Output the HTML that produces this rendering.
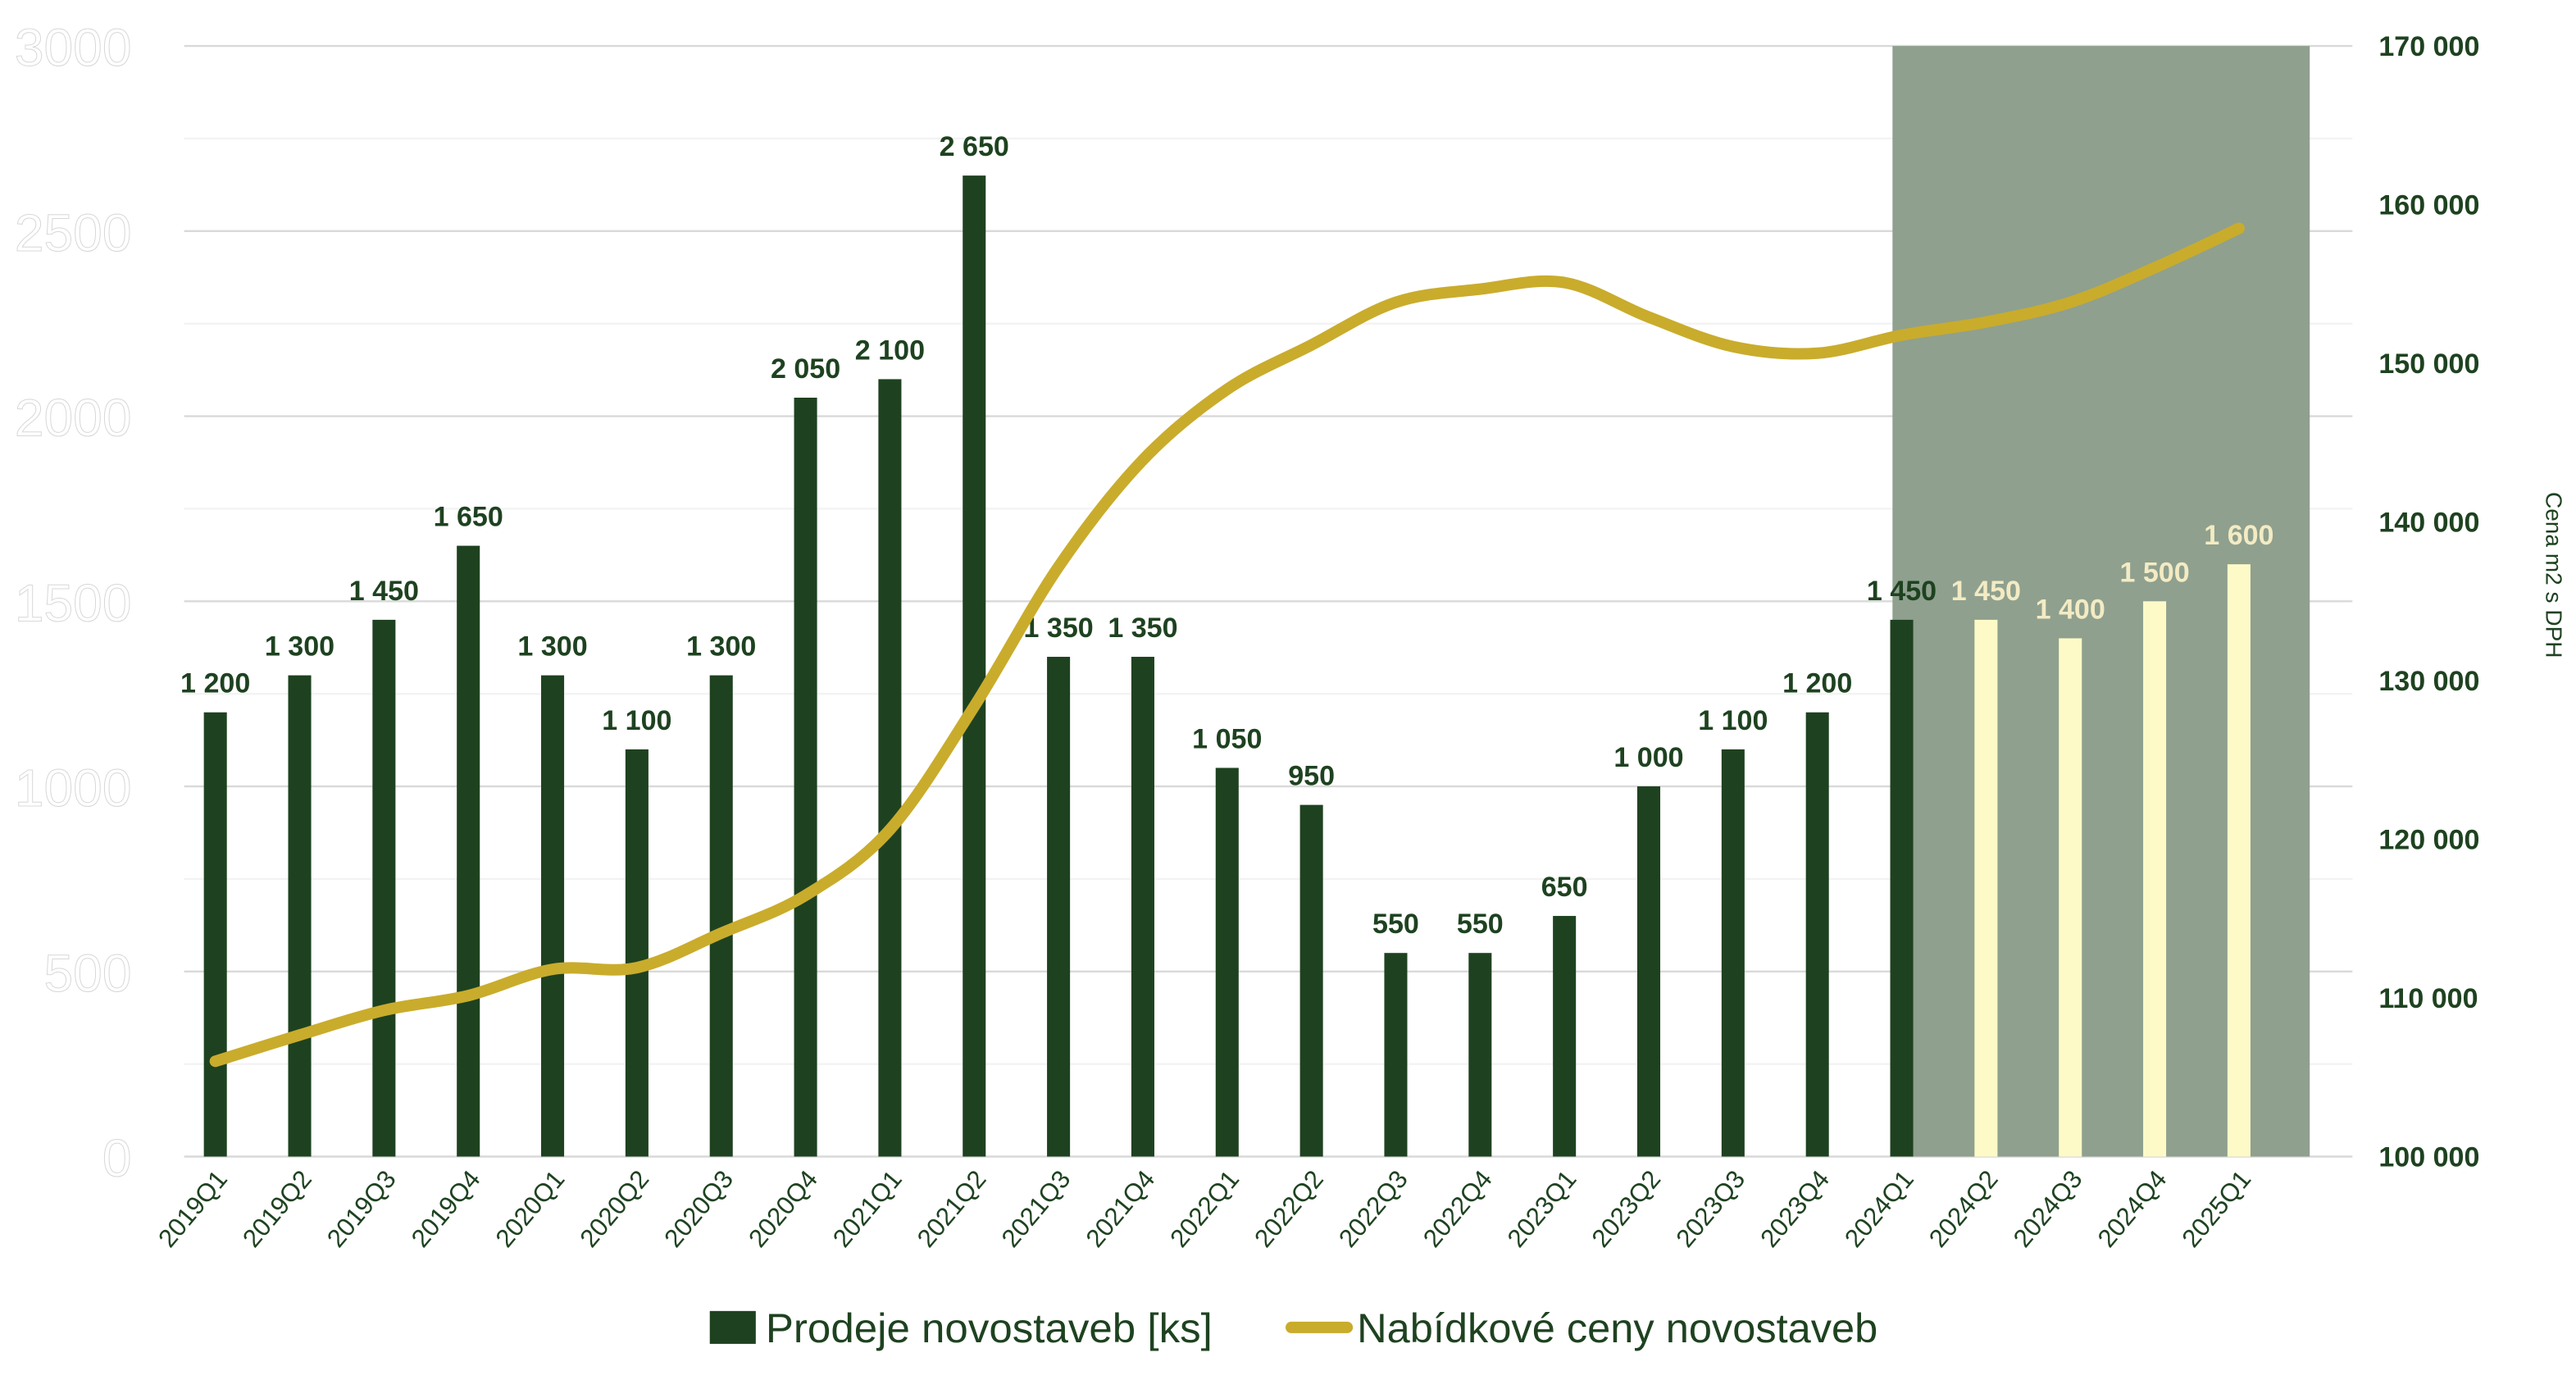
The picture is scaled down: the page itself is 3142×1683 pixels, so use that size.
<!DOCTYPE html>
<html><head><meta charset="utf-8"><style>
html,body{margin:0;padding:0;background:#fff;}
svg{display:block;}
text{font-family:"Liberation Sans",Arial,sans-serif;}
</style></head><body>
<svg id="c" width="3142" height="1683" viewBox="0 0 1568 840" xmlns="http://www.w3.org/2000/svg"></svg>
<script>
var svg=document.getElementById('c');var h='';
var sales=[1200,1300,1450,1650,1300,1100,1300,2050,2100,2650,1350,1350,1050,950,550,550,650,1000,1100,1200,1450,1450,1400,1500,1600];
var cats=[];for(var y=2019;y<=2025;y++)for(var q=1;q<=4;q++)cats.push(y+'Q'+q);cats=cats.slice(0,25);
var ly=[646,630,615,606,590,589,568,545,505,430,345,280,237,210,184,176,172,193,211,215,204,196,184,163,139];
function Y(v){return 704-v*676/3000;}
function X(i){return 131+51.33*i;}
for(var k=0;k<=12;k++){var yy=28+k*676/12;h+='<line x1="112" x2="1432" y1="'+yy+'" y2="'+yy+'" stroke="'+(k%2==0?'#d9d9d9':'#f3f3f3')+'" stroke-width="1.2"/>';}
h+='<rect x="1152" y="28" width="254" height="676" fill="#8fa08e"/>';
for(var k=0;k<=6;k++){var s=String(k*500);h+='<text x="80" y="'+(704-k*676/6+12)+'" text-anchor="end" font-size="32" fill="#fff" stroke="#d8d8d8" stroke-width="0.5" transform="scale(1,1)">'+s+'</text>';}
var rl=['170 000','160 000','150 000','140 000','130 000','120 000','110 000','100 000'];
for(var k=0;k<8;k++){h+='<text x="1448" y="'+(28+k*676/7+6)+'" font-size="17" font-weight="bold" fill="#1e4220">'+rl[k]+'</text>';}
h+='<text transform="translate(1550,350) rotate(90)" text-anchor="middle" font-size="14" fill="#1e4220">Cena m2 s DPH</text>';
for(var i=0;i<25;i++){var f=i>=21;var t=Y(sales[i]);
h+='<rect x="'+(X(i)-7)+'" y="'+t+'" width="14" height="'+(704-t)+'" fill="'+(f?'#fdfac8':'#1e4220')+'"/>';
var s=sales[i]>=1000?Math.floor(sales[i]/1000)+' '+String(sales[i]%1000).padStart(3,'0'):String(sales[i]);
h+='<text x="'+X(i)+'" y="'+(t-12)+'" text-anchor="middle" font-size="17" font-weight="bold" fill="'+(f?'#f3ebc4':'#1e4220')+'">'+s+'</text>';
h+='<text transform="translate('+(X(i)+8)+',718) rotate(-50)" text-anchor="end" font-size="15.5" fill="#1e4220">'+cats[i]+'</text>';}
var p=ly.map(function(v,i){return [X(i),v];});
var d='M'+p[0][0]+','+p[0][1];
for(var i=0;i<p.length-1;i++){var p0=p[i-1]||p[i],p1=p[i],p2=p[i+1],p3=p[i+2]||p2;
d+=' C'+(p1[0]+(p2[0]-p0[0])/6)+','+(p1[1]+(p2[1]-p0[1])/6)+' '+(p2[0]-(p3[0]-p1[0])/6)+','+(p2[1]-(p3[1]-p1[1])/6)+' '+p2[0]+','+p2[1];}
h+='<path d="'+d+'" fill="none" stroke="#c9ac2c" stroke-width="7" stroke-linecap="round"/>';
h+='<rect x="432" y="798" width="28" height="20" fill="#1e4220"/>';
h+='<text x="466" y="817" font-size="25" fill="#1e4220" textLength="272" lengthAdjust="spacingAndGlyphs">Prodeje novostaveb [ks]</text>';
h+='<line x1="786" x2="820" y1="808" y2="808" stroke="#c9ac2c" stroke-width="7" stroke-linecap="round"/>';
h+='<text x="826" y="817" font-size="25" fill="#1e4220" textLength="317" lengthAdjust="spacingAndGlyphs">Nabídkové ceny novostaveb</text>';
svg.innerHTML=h;
</script>
</body></html>
